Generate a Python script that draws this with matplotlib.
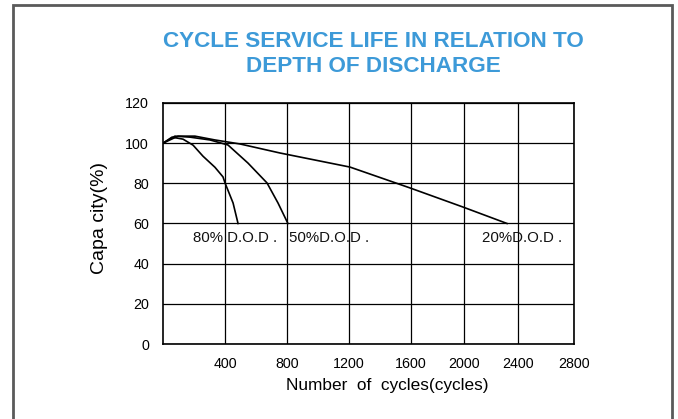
import numpy as np
import matplotlib
matplotlib.use("Agg")
import matplotlib.pyplot as plt
from matplotlib.patches import Rectangle

# data (cycles, capacity %)
dod80_x = [0, 58, 129, 194, 258, 335, 387, 400, 452, 484]
dod80_y = [100, 103, 102, 99, 93.5, 88, 83.2, 80.2, 70.2, 60]
dod50_x = [0, 77, 174, 303, 419, 548, 671, 742, 806]
dod50_y = [100, 103.5, 103, 101.6, 99.1, 90.1, 80.2, 70.2, 60]
dod20_x = [0, 97, 206, 335, 497, 755, 1206, 1594, 1992, 2319]
dod20_y = [100, 103.5, 103.5, 101.6, 99.6, 95.1, 88.1, 77.7, 68.2, 60]

x_ticks = [400, 800, 1200, 1600, 2000, 2400, 2800]
y_ticks = [0, 20, 40, 60, 80, 100, 120]
labels = ["80% D.O.D .", "50%D.O.D .", "20%D.O.D ."]
label_x = [194, 813, 2133]
label_y = 53

# the original grid is not evenly spaced on x
grid_cycles = [0, 400, 800, 1200, 1600, 2000, 2400, 2800]
grid_pos = [0, 0.1509, 0.3017, 0.4526, 0.6034, 0.7324, 0.8637, 1.0]

def fwd(x):
    return np.interp(x, grid_cycles, grid_pos, left=-1, right=2)

def inv(p):
    return np.interp(p, grid_pos, grid_cycles)

plt.rcParams['font.family'] = ['Liberation Sans', 'DejaVu Sans']

fig = plt.figure(figsize=(6.78, 4.19), dpi=100)
ax = fig.add_axes([163/678, 1-344/419, 411/678, 241/419])
ax.set_xscale('function', functions=(fwd, inv))

for xs, ys in [(dod80_x, dod80_y), (dod50_x, dod50_y), (dod20_x, dod20_y)]:
    ax.plot(xs, ys, color='black', lw=1.2)

for t, x in zip(labels, label_x):
    ax.text(x, label_y, t, fontsize=10.8, va='center', ha='left', color='#111111')

ax.set_xlim(0, 2800)
ax.set_ylim(0, 120)
ax.set_xticks(x_ticks)
ax.set_yticks(y_ticks)
ax.tick_params(length=0, labelsize=10.3)
ax.tick_params(axis='x', pad=9)
ax.tick_params(axis='y', pad=10)
ax.grid(True, color='black', lw=0.9)
for s in ax.spines.values():
    s.set_linewidth(1.2)

ax.set_xlabel('Number  of  cycles(cycles)', fontsize=12.4)
ax.xaxis.set_label_coords(0.545, -0.14)
ax.set_ylabel('Capa city(%)', fontsize=14)
ax.yaxis.set_label_coords(-0.134, 0.523)

fig.text(0.55, 1 - 54/419, 'CYCLE SERVICE LIFE IN RELATION TO\nDEPTH OF DISCHARGE',
         ha='center', va='center', fontsize=16.2, fontweight='bold',
         color='#3d9ad8', linespacing=1.2)

fig.add_artist(Rectangle((13/678, -0.05), 659/678, 1.05 - 5/419,
                         transform=fig.transFigure, fill=False,
                         ec='#5a5a5a', lw=2))

fig.savefig('out.png', dpi=100)
